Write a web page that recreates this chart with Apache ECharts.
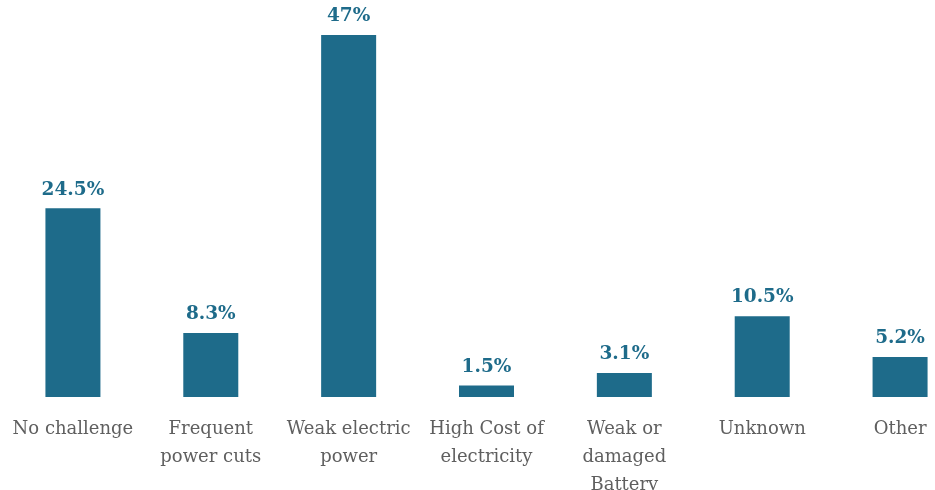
<!DOCTYPE html>
<html><head><meta charset="utf-8">
<script src="https://cdn.jsdelivr.net/npm/echarts@6/dist/echarts.min.js"></script>
<style>html,body{margin:0;padding:0;background:#fff}#c{width:935px;height:490px}</style>
</head><body><div id="c"></div>
<script>
var categories = ["No challenge", "Frequent\npower cuts", "Weak electric\npower", "High Cost of\nelectricity", "Weak or\ndamaged\nBattery", "Unknown", "Other"];
var values = [24.5, 8.3, 47, 1.5, 3.1, 10.5, 5.2];
var valueLabels = ["24.5%", "8.3%", "47%", "1.5%", "3.1%", "10.5%", "5.2%"];

var chart = echarts.init(document.getElementById('c'));
chart.setOption({
  animation: false,
  grid: {left: 4, top: 35, bottom: 93, width: 965, containLabel: false, outerBoundsMode: 'none'},
  xAxis: {
    type: 'category', data: categories,
    axisLine: {show: false}, axisTick: {show: false},
    axisLabel: {interval: 0, color: '#5f5f5f', fontFamily: 'DejaVu Serif', fontSize: 18, lineHeight: 28, margin: 18}
  },
  yAxis: {type: 'value', min: 0, max: 47, show: false, splitLine: {show: false}},
  series: [{
    type: 'bar', data: values, barWidth: 55,
    itemStyle: {color: '#1e6b8a'},
    label: {
      show: true, position: 'top', distance: 9,
      color: '#1e6b8a', fontFamily: 'DejaVu Serif', fontWeight: 'bold', fontSize: 18.5,
      formatter: function (p) { return valueLabels[p.dataIndex]; }
    }
  }]
});
</script></body></html>
